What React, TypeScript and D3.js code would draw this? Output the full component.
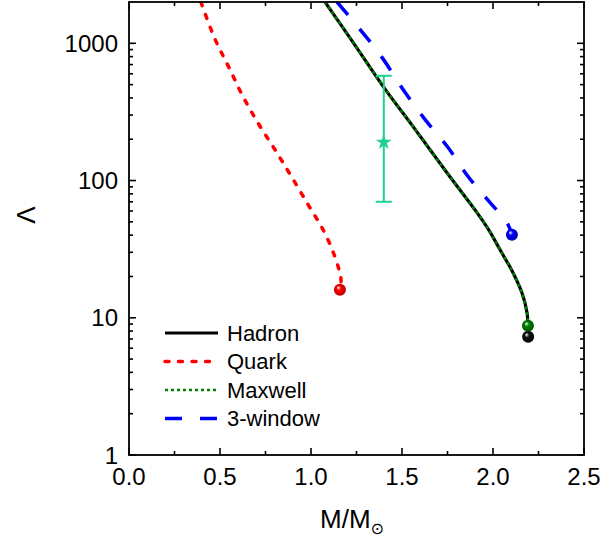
import React from "react";
import * as d3 from "d3";

const hadron: [number, number][] = [
  [1.077, 2000], [1.231, 1016], [1.396, 486], [1.56, 248], [1.747, 114],
  [1.912, 58.4], [1.98, 43], [2.038, 31.4], [2.11, 21.3], [2.159, 15.2], [2.187, 10.9],
  [2.192, 8.74], [2.193, 7.27],
];
const maxwell: [number, number][] = [
  [1.077, 2000], [1.231, 1016], [1.396, 486], [1.56, 248], [1.747, 114],
  [1.912, 58.4], [1.98, 43], [2.038, 31.4], [2.11, 21.3], [2.159, 15.2], [2.187, 10.9],
  [2.192, 8.74],
];
const quark: [number, number][] = [
  [0.395, 2000], [0.473, 1069], [0.549, 668], [0.626, 410], [0.714, 256],
  [0.808, 163], [0.896, 105], [0.984, 66.8], [1.066, 43.9], [1.121, 30.3],
  [1.154, 22.4], [1.165, 18.9], [1.159, 16.0],
];
const window3: [number, number][] = [
  [1.143, 2000], [1.269, 1265], [1.39, 790], [1.505, 462], [1.626, 279],
  [1.753, 174], [1.863, 107], [1.984, 69], [2.077, 49.4], [2.104, 40.3],
];
const obsM = 1.4;
const obsLambda = 190;
const obsLow = 70;
const obsHigh = 580;

const xTicks = [0, 0.5, 1.0, 1.5, 2.0, 2.5];
const xMinor = [0.25, 0.75, 1.25, 1.75, 2.25];
const yTicks = [1, 10, 100, 1000];
const legendItems = ["Hadron", "Quark", "Maxwell", "3-window"];

const W = 604, H = 539;
const L = 129, R = 584, T = 2, B = 455;

export default function App() {
  const x = d3.scaleLinear().domain([0, 2.5]).range([L, R]);
  const y = d3.scaleLog().domain([1, 2000]).range([B, T]);
  const line = d3
    .line<[number, number]>()
    .x((d) => x(d[0]))
    .y((d) => y(d[1]))
    .curve(d3.curveCatmullRom.alpha(0.5));

  const yMinor: number[] = [];
  for (let dec = 1; dec <= 1000; dec *= 10) {
    for (let k = 2; k <= 9; k++) {
      const v = dec * k;
      if (v < 2000) yMinor.push(v);
    }
  }

  const styles = [
    { stroke: "#000000", width: 3.2, dash: undefined as string | undefined, cap: "butt" },
    { stroke: "#ff0000", width: 3.5, dash: "4 9.5", cap: "round" },
    { stroke: "#008000", width: 2.6, dash: "3 3", cap: "butt" },
    { stroke: "#0000ff", width: 3.5, dash: "17 18", cap: "butt" },
  ];
  const obsColor = "#1fd28e";
  const star = d3.symbol().type(d3.symbolStar).size(80)()!;

  const spheres: { id: string; c: string; dark: string; p: [number, number] }[] = [
    { id: "gRed", c: "#ff0000", dark: "#b00000", p: quark[quark.length - 1] },
    { id: "gBlue", c: "#0000ff", dark: "#0000a0", p: window3[window3.length - 1] },
    { id: "gBlack", c: "#111111", dark: "#000000", p: hadron[hadron.length - 1] },
    { id: "gGreen", c: "#008000", dark: "#005000", p: maxwell[maxwell.length - 1] },
  ];

  const font = "'Liberation Sans', Arial, sans-serif";

  return (
    <svg
      width={W}
      height={H}
      style={{ position: "absolute", left: 0, top: 0, background: "#fff" }}
      fontFamily={font}
    >
      <defs>
        <clipPath id="plotClip">
          <rect x={L} y={T} width={R - L} height={B - T} />
        </clipPath>
        {spheres.map((s) => (
          <radialGradient key={s.id} id={s.id} cx="50%" cy="50%" r="55%" fx="35%" fy="30%">
            <stop offset="0%" stopColor="#ffffff" />
            <stop offset="35%" stopColor={s.c} />
            <stop offset="100%" stopColor={s.dark} />
          </radialGradient>
        ))}
      </defs>
      <rect x={0} y={0} width={W} height={H} fill="#fff" />

      <g clipPath="url(#plotClip)">
        <path d={line(hadron)!} fill="none" stroke={styles[0].stroke} strokeWidth={styles[0].width} />
        <path d={line(maxwell)!} fill="none" stroke={styles[2].stroke} strokeWidth={styles[2].width} strokeDasharray={styles[2].dash} />
        <path d={line(quark)!} fill="none" stroke={styles[1].stroke} strokeWidth={styles[1].width} strokeDasharray={styles[1].dash} strokeLinecap="round" />
        <path d={line(window3)!} fill="none" stroke={styles[3].stroke} strokeWidth={styles[3].width} strokeDasharray={styles[3].dash} />
      </g>

      {/* observation */}
      <g stroke={obsColor} strokeWidth={2}>
        <line x1={x(obsM)} x2={x(obsM)} y1={y(obsHigh)} y2={y(obsLow)} />
        <line x1={x(obsM) - 8} x2={x(obsM) + 8} y1={y(obsHigh)} y2={y(obsHigh)} />
        <line x1={x(obsM) - 8} x2={x(obsM) + 8} y1={y(obsLow)} y2={y(obsLow)} />
      </g>
      <path d={star} transform={`translate(${x(obsM)},${y(obsLambda)})`} fill={obsColor} />

      {spheres.map((s) => (
        <circle key={s.id} cx={x(s.p[0])} cy={y(s.p[1])} r={6} fill={`url(#${s.id})`} />
      ))}

      {/* frame */}
      <rect x={L} y={T} width={R - L} height={B - T} fill="none" stroke="#000" strokeWidth={1.8} />

      {/* ticks */}
      <g stroke="#000" strokeWidth={1.6}>
        {xTicks.map((t) => (
          <g key={"xt" + t}>
            <line x1={x(t)} x2={x(t)} y1={B} y2={B - 7} />
            <line x1={x(t)} x2={x(t)} y1={T} y2={T + 7} />
          </g>
        ))}
        {xMinor.map((t) => (
          <g key={"xm" + t}>
            <line x1={x(t)} x2={x(t)} y1={B} y2={B - 4} />
            <line x1={x(t)} x2={x(t)} y1={T} y2={T + 4} />
          </g>
        ))}
        {yTicks.map((t) => (
          <g key={"yt" + t}>
            <line x1={L} x2={L + 7} y1={y(t)} y2={y(t)} />
            <line x1={R} x2={R - 7} y1={y(t)} y2={y(t)} />
          </g>
        ))}
        {yMinor.map((t) => (
          <g key={"ym" + t}>
            <line x1={L} x2={L + 4} y1={y(t)} y2={y(t)} />
            <line x1={R} x2={R - 4} y1={y(t)} y2={y(t)} />
          </g>
        ))}
      </g>

      {/* tick labels */}
      <g fontSize={24} fill="#000">
        {xTicks.map((t) => (
          <text key={"xl" + t} x={x(t)} y={485} textAnchor="middle">
            {t.toFixed(1)}
          </text>
        ))}
        {yTicks.map((t) => (
          <text key={"yl" + t} x={118} y={y(t)} textAnchor="end" dominantBaseline="central">
            {String(t)}
          </text>
        ))}
      </g>

      {/* axis titles */}
      <text x={320} y={528} fontSize={26} fill="#000">
        M/M
        <tspan fontSize={16} dy={6} fontFamily="'DejaVu Sans', sans-serif">⊙</tspan>
      </text>
      <text
        transform={`translate(35,215) rotate(-90)`}
        textAnchor="middle"
        fontSize={26}
        fill="#000"
      >
        Λ
      </text>

      {/* legend */}
      {legendItems.map((name, i) => {
        const yy = 333 + i * 28.5;
        const s = styles[i];
        return (
          <g key={name}>
            <line
              x1={165}
              x2={218}
              y1={yy}
              y2={yy}
              stroke={s.stroke}
              strokeWidth={s.width}
              strokeDasharray={s.dash}
              strokeLinecap={s.cap as any}
            />
            <text x={227} y={yy} fontSize={22} dominantBaseline="central" fill="#000">
              {name}
            </text>
          </g>
        );
      })}
    </svg>
  );
}
